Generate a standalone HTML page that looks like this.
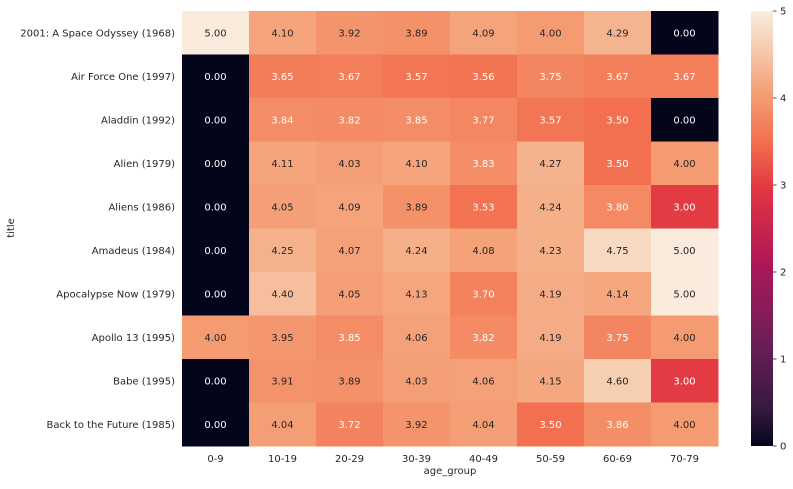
<!DOCTYPE html>
<html><head><meta charset="utf-8"><style>
body{margin:0;background:#fff;font-family:"Liberation Sans","DejaVu Sans",sans-serif;}
svg text{font-family:"DejaVu Sans","Liberation Sans",sans-serif;font-size:10px;fill:#262626;}
</style></head><body>
<svg id="chart" width="793" height="484">
<defs><linearGradient id="cb" x1="0" y1="1" x2="0" y2="0"></linearGradient></defs>
<g id="cells"></g><g id="labels"></g><g id="cbar"></g>
<text x="450" y="474" text-anchor="middle">age_group</text>
<text x="14" y="228" text-anchor="middle" transform="rotate(-90 14 228)">title</text>
</svg>
<script>
const titles=["2001: A Space Odyssey (1968)","Air Force One (1997)","Aladdin (1992)","Alien (1979)","Aliens (1986)","Amadeus (1984)","Apocalypse Now (1979)","Apollo 13 (1995)","Babe (1995)","Back to the Future (1985)"];
const ageGroups=["0-9","10-19","20-29","30-39","40-49","50-59","60-69","70-79"];
const values=[
[5.00,4.10,3.92,3.89,4.09,4.00,4.29,0.00],
[0.00,3.65,3.67,3.57,3.56,3.75,3.67,3.67],
[0.00,3.84,3.82,3.85,3.77,3.57,3.50,0.00],
[0.00,4.11,4.03,4.10,3.83,4.27,3.50,4.00],
[0.00,4.05,4.09,3.89,3.53,4.24,3.80,3.00],
[0.00,4.25,4.07,4.24,4.08,4.23,4.75,5.00],
[0.00,4.40,4.05,4.13,3.70,4.19,4.14,5.00],
[4.00,3.95,3.85,4.06,3.82,4.19,3.75,4.00],
[0.00,3.91,3.89,4.03,4.06,4.15,4.60,3.00],
[0.00,4.04,3.72,3.92,4.04,3.50,3.86,4.00]];
const cbTicks=[0,1,2,3,4,5];
const stops=[[0,"#03051a"],[0.42,"#35193e"],[1.25,"#701f57"],[2.08,"#ad1759"],[2.92,"#e13342"],[3.5,"#f2704f"],[3.86,"#f48e67"],[4.0,"#f49b72"],[4.15,"#f5a880"],[4.6,"#f6cfb3"],[5,"#faebdd"]];
function hex(h){return [1,3,5].map(i=>parseInt(h.substr(i,2),16));}
function color(v){for(let i=1;i<stops.length;i++){if(v<=stops[i][0]){const a=stops[i-1],b=stops[i];const t=(v-a[0])/(b[0]-a[0]);const ca=hex(a[1]),cb=hex(b[1]);return "rgb("+ca.map((c,k)=>Math.round(c+(cb[k]-c)*t)).join(",")+")";}}return stops[stops.length-1][1];}
const L=182,R=718,T=11,B=446;
const cw=(R-L)/ageGroups.length,ch=(B-T)/titles.length;
const xs=i=>L+i*cw, ys=j=>T+j*ch;
const NS="http://www.w3.org/2000/svg";
const cells=document.getElementById('cells'),labels=document.getElementById('labels'),cbar=document.getElementById('cbar');
function mk(tag,attrs,parent,txt){const e=document.createElementNS(NS,tag);for(const k in attrs)e.setAttribute(k,attrs[k]);if(txt!==undefined)e.textContent=txt;parent.appendChild(e);return e;}
values.forEach((row,j)=>row.forEach((v,i)=>{
 const r=mk('rect',{x:xs(i),y:ys(j),width:cw+0.5,height:ch+0.5,fill:color(v)},cells);
 
 
 const t=mk('text',{x:xs(i)+cw/2,y:ys(j)+ch/2+3.5,'text-anchor':'middle',style:'fill:'+(v<3.87?'#fff':'#262626')},cells,v.toFixed(2));
 
 
}));
titles.forEach((s,j)=>{const t=mk('text',{x:L-7,y:ys(j)+ch/2+3.5,'text-anchor':'end'},labels,s);
 
 });
ageGroups.forEach((s,i)=>{const t=mk('text',{x:xs(i)+cw/2,y:B+16,'text-anchor':'middle'},labels,s);
 
 });
const g=document.getElementById('cb');
stops.forEach(s=>mk('stop',{offset:s[0]/5,'stop-color':s[1]},g));
const CL=751,CR=773;
const cy=v=>B-(v/5)*(B-T);
const cr=mk('rect',{x:CL,y:T,width:CR-CL,height:B-T,fill:'url(#cb)'},cbar);


cbTicks.forEach(v=>{mk('line',{x1:CR,x2:CR+3.5,y1:cy(v),y2:cy(v),stroke:'#262626','stroke-width':0.8},cbar);
 const t=mk('text',{x:CR+7,y:cy(v)+3.5},cbar,String(v));
 
 });
</script>
</body></html>
